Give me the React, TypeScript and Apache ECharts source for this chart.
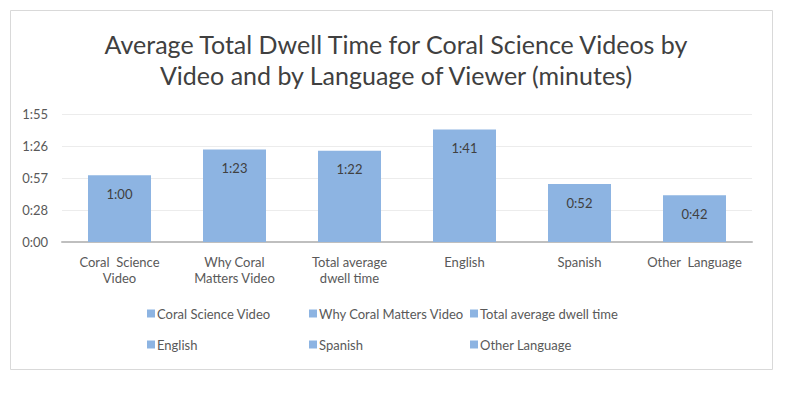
import React, { useEffect, useRef } from "react";
import * as echarts from "echarts";

const categories = [
  "Coral Science Video",
  "Why Coral Matters Video",
  "Total average dwell time",
  "English",
  "Spanish",
  "Other Language",
];
const axisLabels = [
  "Coral  Science\nVideo",
  "Why Coral\nMatters Video",
  "Total average\ndwell time",
  "English",
  "Spanish",
  "Other  Language",
];
// dwell time in seconds
const dwellSeconds = [60, 83, 82, 101, 52, 42];
const yMax = 115;
const yInterval = 28.75;

const fmt = (v: number) => {
  const s = Math.floor(v + 1e-9);
  const m = Math.floor(s / 60);
  const r = s % 60;
  return `${m}:${r < 10 ? "0" + r : r}`;
};

const FONT = "Lato";

export default function App() {
  const ref = useRef<HTMLDivElement>(null);
  useEffect(() => {
    document.body.style.margin = "0";
    const chart = echarts.init(ref.current!, null, { renderer: "svg" });
    const legendCols = [
      [categories[0], categories[3]],
      [categories[1], categories[4]],
      [categories[2], categories[5]],
    ];
    const legendX = [142, 304, 465];
    chart.setOption({
      animation: false,
      color: ["#8DB4E2"],
      backgroundColor: "#ffffff",
      title: {
        text: "Average Total Dwell Time for Coral Science Videos by\nVideo and by Language of Viewer (minutes)",
        left: 391,
        textAlign: "center",
        top: 23,
        textStyle: {
          fontFamily: FONT,
          fontSize: 25,
          fontWeight: "normal",
          color: "#404040",
          lineHeight: 31,
        },
      },
      graphic: [
        {
          type: "rect",
          shape: { x: 10.5, y: 10.5, width: 762, height: 359 },
          style: { fill: "none", stroke: "#d9d9d9", lineWidth: 1 },
          silent: true,
        },
      ],
      legend: legendCols.map((col, i) => ({
        data: col,
        orient: "vertical",
        left: legendX[i],
        top: 302,
        itemWidth: 8,
        itemHeight: 8,
        itemGap: 18,
        icon: "rect",
        selectedMode: false,
        textStyle: { fontFamily: FONT, fontSize: 13, color: "#595959", padding: [0, 0, 0, -3] },
      })),
      grid: { left: 62, right: 48, top: 114, height: 128 },
      xAxis: {
        type: "category",
        data: categories,
        axisLine: { lineStyle: { color: "#bfbfbf", width: 2 } },
        axisTick: { show: false },
        axisLabel: {
          interval: 0,
          fontFamily: FONT,
          fontSize: 13,
          color: "#595959",
          lineHeight: 16,
          margin: 12,
          formatter: (_v: string, idx: number) => axisLabels[idx],
        },
      },
      yAxis: {
        type: "value",
        min: 0,
        max: yMax,
        interval: yInterval,
        axisLine: { show: false },
        axisTick: { show: false },
        splitLine: { lineStyle: { color: "#ececec", width: 1 } },
        axisLabel: {
          fontFamily: FONT,
          fontSize: 13,
          color: "#595959",
          margin: 14,
          formatter: (v: number) => fmt(v),
        },
      },
      series: categories.map((c, i) => ({
        name: c,
        type: "bar",
        stack: "all",
        barWidth: 63,
        data: dwellSeconds.map((v, j) => (j === i ? v : "-")),
        label: {
          show: true,
          position: "insideTop",
          distance: 12,
          fontFamily: FONT,
          fontSize: 13,
          color: "#404040",
          formatter: (p: any) => fmt(p.value),
        },
      })),
    });
    return () => chart.dispose();
  }, []);
  return <div ref={ref} style={{ width: 800, height: 393 }} />;
}
